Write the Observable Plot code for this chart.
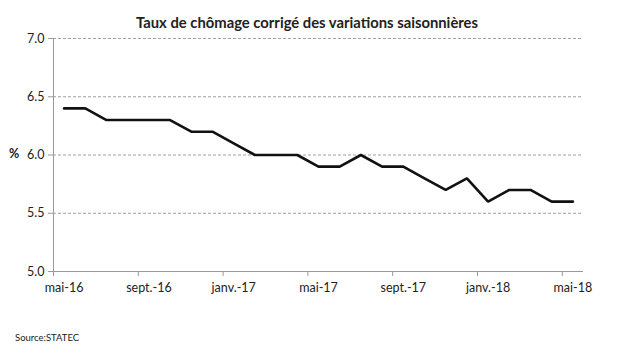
<!DOCTYPE html>
<html><head><meta charset="utf-8">
<script src="https://cdn.jsdelivr.net/npm/d3@7"></script>
<script src="https://cdn.jsdelivr.net/npm/@observablehq/plot@0.6"></script>
<style>
body{margin:0;background:#fff;font-family:Lato,"Open Sans",sans-serif;color:#222;}
#wrap{position:relative;width:640px;height:353px;overflow:hidden;}
#title{position:absolute;left:0;width:614px;top:13px;line-height:18px;text-align:center;font-size:14.8px;font-weight:bold;color:#222;}
#chart{position:absolute;left:0;top:30px;}
#pct{position:absolute;left:9px;top:146px;font-size:12.5px;font-weight:bold;}
#src{position:absolute;left:15px;top:332px;font-size:9.5px;}
</style></head>
<body>
<div id="wrap">
<div id="title">Taux de chômage corrigé des variations saisonnières</div>
<div id="chart"></div>
<div id="pct">%</div>
<div id="src">Source:STATEC</div>
</div>
<script>
const months = ["mai-16","juin-16","juil.-16","août-16","sept.-16","oct.-16","nov.-16","déc.-16",
  "janv.-17","févr.-17","mars-17","avr.-17","mai-17","juin-17","juil.-17","août-17","sept.-17","oct.-17","nov.-17","déc.-17",
  "janv.-18","févr.-18","mars-18","avr.-18","mai-18"];
const rates = [6.4,6.4,6.3,6.3,6.3,6.3,6.2,6.2,6.1,6.0,6.0,6.0,5.9,5.9,6.0,5.9,5.9,5.8,5.7,5.8,5.6,5.7,5.7,5.6,5.6];
const shownLabels = ["mai-16","sept.-16","janv.-17","mai-17","sept.-17","janv.-18","mai-18"];
const yTicks = [5.0,5.5,6.0,6.5,7.0];

const data = months.map((m,i)=>({i, m, v: rates[i]}));
const labelIdx = shownLabels.map(l=>months.indexOf(l));
const boundaries = labelIdx.map(i=>i-0.5);
const xDomain = [-0.5, months.length-0.5];

const chart = Plot.plot({
  width: 640, height: 275,
  marginLeft: 53, marginRight: 57, marginTop: 8, marginBottom: 34,
  style: {fontFamily: "Lato, 'Open Sans', sans-serif", fontSize: "12.5px", color: "#222", background: "transparent"},
  x: {type: "linear", domain: xDomain},
  y: {domain: [yTicks[0], yTicks[yTicks.length-1]]},
  marks: [
    Plot.gridY(yTicks, {stroke: "#888", strokeOpacity: 1, strokeDasharray: "3,2", strokeWidth: 0.8}),
    Plot.axisY({ticks: yTicks, tickFormat: d3.format(".1f"), tickSize: 5, tickPadding: 4, stroke: "#999", label: null}),
    Plot.axisX({ticks: boundaries, tickFormat: () => "", tickSize: 5, stroke: "#999", label: null}),
    Plot.axisX({ticks: labelIdx, tickFormat: i => months[i], tickSize: 0, tickPadding: 12, label: null}),
    Plot.ruleX([xDomain[0]], {stroke: "#999"}),
    Plot.ruleY([yTicks[0]], {stroke: "#999"}),
    Plot.line(data, {x: "i", y: "v", stroke: "#111", strokeWidth: 2.6, strokeLinejoin: "miter"})
  ]
});
document.getElementById("chart").appendChild(chart);
</script>
</body></html>
